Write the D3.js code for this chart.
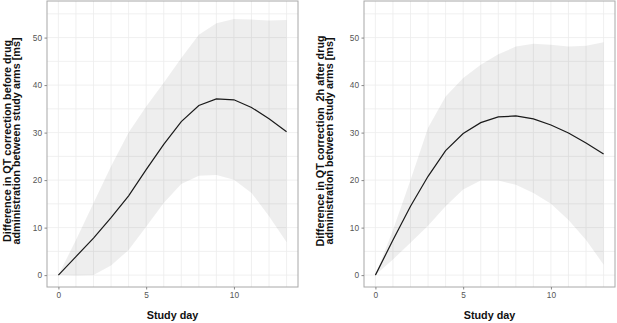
<!DOCTYPE html>
<html>
<head>
<meta charset="utf-8">
<script src="https://cdn.jsdelivr.net/npm/d3@7"></script>
<style>
  body { margin: 0; background: #fff; }
  svg { display: block; font-family: "Liberation Sans", Arial, sans-serif; }
</style>
</head>
<body>
<svg id="chart" width="617" height="323"></svg>
<script>
// Données
const days = [0, 1, 2, 3, 4, 5, 6, 7, 8, 9, 10, 11, 12, 13];

const beforeMean  = [0, 3.9, 7.8, 12.1, 16.7, 22.2, 27.5, 32.3, 35.7, 37.1, 36.9, 35.3, 32.9, 30.2];
const beforeUpper = [0, 7.4, 15.2, 22.9, 30.0, 35.5, 40.5, 45.7, 50.6, 53.0, 53.9, 53.8, 53.6, 53.7];
const beforeLower = [0, -0.1, 0, 2.0, 5.3, 10.2, 15.2, 19.2, 20.9, 21.1, 20.1, 17.3, 12.4, 6.9];

const afterMean  = [0, 7.4, 14.5, 20.8, 26.2, 29.8, 32.1, 33.3, 33.5, 32.9, 31.6, 29.9, 27.8, 25.5];
const afterUpper = [0, 9.5, 20.0, 31.0, 37.6, 41.5, 44.3, 46.5, 48.1, 48.7, 48.5, 48.1, 48.3, 49.0];
const afterLower = [0, 3.3, 6.8, 10.4, 14.5, 18.0, 19.9, 19.9, 19.0, 17.3, 15.0, 11.6, 7.4, 2.2];

const xTicks = [0, 5, 10];
const yTicks = [0, 10, 20, 30, 40, 50];

const panels = [
  { left: 47, titleX: -36.3, title: ["Difference in QT correction before drug", "administration between study arms [ms]"],
    mean: beforeMean, upper: beforeUpper, lower: beforeLower },
  { left: 364, titleX: -40.5, title: ["Difference in QT correction  2h after drug", "administration between study arms [ms]"],
    mean: afterMean, upper: afterUpper, lower: afterLower }
];

const svg = d3.select("#chart");
const panelW = 251;
const panelTop = 1, panelBottom = 287;

const y = d3.scaleLinear().domain([-2.5, 57.7]).range([panelBottom, panelTop]);

panels.forEach(p => {
  const x = d3.scaleLinear().domain([-0.65, 13.65]).range([p.left, p.left + panelW]);
  const g = svg.append("g");

  // Grille (majeure + mineure)
  g.append("g").selectAll("line")
    .data(d3.range(0, 14))
    .enter().append("line")
    .attr("x1", d => x(d)).attr("x2", d => x(d))
    .attr("y1", panelTop).attr("y2", panelBottom)
    .attr("stroke", "#ececec").attr("stroke-width", 0.8);

  g.append("g").selectAll("line")
    .data(d3.range(0, 60, 5))
    .enter().append("line")
    .attr("x1", p.left).attr("x2", p.left + panelW)
    .attr("y1", d => y(d)).attr("y2", d => y(d))
    .attr("stroke", "#ececec").attr("stroke-width", 0.8);

  // Bande de confiance
  const rows = days.map((d, i) => ({ day: d, mean: p.mean[i], lo: p.lower[i], hi: p.upper[i] }));

  g.append("path")
    .datum(rows)
    .attr("d", d3.area().x(d => x(d.day)).y0(d => y(d.lo)).y1(d => y(d.hi)))
    .attr("fill", "#000").attr("fill-opacity", 0.065);

  g.append("path")
    .datum(rows)
    .attr("d", d3.line().x(d => x(d.day)).y(d => y(d.mean)))
    .attr("fill", "none").attr("stroke", "#1a1a1a").attr("stroke-width", 1.2);

  // Cadre
  g.append("rect")
    .attr("x", p.left).attr("y", panelTop)
    .attr("width", panelW).attr("height", panelBottom - panelTop)
    .attr("fill", "none").attr("stroke", "#a8a8a8").attr("stroke-width", 1);

  // Axes
  const xAxis = g.append("g")
    .attr("transform", `translate(0,${panelBottom})`)
    .call(d3.axisBottom(x).tickValues(xTicks).tickSize(2.5).tickPadding(3));
  const yAxis = g.append("g")
    .attr("transform", `translate(${p.left},0)`)
    .call(d3.axisLeft(y).tickValues(yTicks).tickSize(2.5).tickPadding(2.5));

  [xAxis, yAxis].forEach(a => {
    a.select(".domain").remove();
    a.selectAll("line").attr("stroke", "#888");
    a.selectAll("text").attr("fill", "#555").attr("font-size", "8.3px")
      .attr("font-family", "'Liberation Sans', Arial, sans-serif");
  });

  // Titres
  g.append("text")
    .attr("x", x(6.5)).attr("y", 318.5)
    .attr("text-anchor", "middle")
    .attr("font-size", "10.8px").attr("font-weight", "bold").attr("fill", "#111")
    .text("Study day");

  p.title.forEach((t, i) => {
    g.append("text")
      .attr("transform", `translate(${p.left + p.titleX + i * 9.6},141) rotate(-90)`)
      .attr("text-anchor", "middle")
      .attr("font-size", "10.8px").attr("font-weight", "bold").attr("fill", "#111")
      .style("white-space", "pre")
      .text(t);
  });
});
</script>
</body>
</html>
